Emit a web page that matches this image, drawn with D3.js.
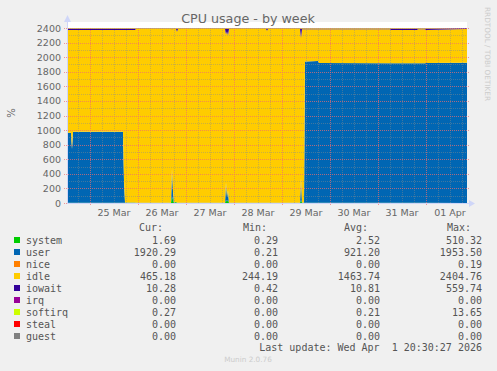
<!DOCTYPE html>
<html><head><meta charset="utf-8">
<script src="https://cdn.jsdelivr.net/npm/d3@7"></script>
<style>body{margin:0;background:#F0F0F0;} svg{display:block}</style>
</head><body><svg id="c" width="497" height="371"></svg>
<script>
// ---- data ----
const times = [
 "2026-03-24T12:30","2026-03-24T14:30","2026-03-24T15:00","2026-03-24T15:30","2026-03-25T16:30",
 "2026-03-25T17:00","2026-03-25T17:30","2026-03-25T22:30","2026-03-25T23:00","2026-03-26T16:30",
 "2026-03-26T17:00","2026-03-26T17:30","2026-03-26T18:00","2026-03-26T19:00","2026-03-26T19:30","2026-03-26T20:00",
 "2026-03-27T19:30","2026-03-27T20:00","2026-03-27T20:30","2026-03-27T21:00","2026-03-27T21:30",
 "2026-03-28T16:00","2026-03-28T16:30","2026-03-28T17:00","2026-03-29T09:00","2026-03-29T09:30",
 "2026-03-29T10:00","2026-03-29T11:00","2026-03-29T11:30","2026-03-29T18:00","2026-03-29T18:30",
 "2026-03-31T06:00","2026-03-31T06:30","2026-03-31T19:30","2026-03-31T20:00","2026-03-31T23:30",
 "2026-04-01T00:00","2026-04-01T20:30"];
const system  = [2,2,2,2,2, 2,2,2,1,1, 90,40,1,15,2,1, 1,40,20,40,1, 1,1,1,1,40, 2,2,2,2,2, 2,2,2,2,2, 2,1.69];
const user    = [960,960,740,975,975, 300,5,5,3,3, 380,120,3,3,3,3, 3,240,60,130,3, 3,3,3,3,300, 5,5,1940,1945,1918, 1915,1915,1915,1915,1915, 1918,1920.29];
const nice    = [0,0,0,0,0, 0,0,0,0,0, 0,0,0,0,0,0, 0,0,0,0,0, 0,0,0,0,0, 0,0,0,0,0, 0,0,0,0,0, 0,0];
const idle    = [1410,1410,1630,1395,1395, 2070,2365,2365,2384,2384, 1912,2228,2384,2370,2342,2384, 2384,2032,2272,2132,2384, 2384,2358,2384,2384,1922, 2375,2375,440,435,462, 467,455,455,467,467, 452,465.18];
const iowait  = [20,20,20,20,20, 20,20,20,4,4, 10,4,4,4,45,4, 4,80,40,90,4, 4,30,4,4,130, 10,10,10,10,10, 8,20,20,8,8, 20,10.28];
const irq     = [0,0,0,0,0, 0,0,0,0,0, 0,0,0,0,0,0, 0,0,0,0,0, 0,0,0,0,0, 0,0,0,0,0, 0,0,0,0,0, 0,0];
const softirq = [8,8,8,8,8, 8,8,8,8,8, 8,8,8,8,8,8, 8,8,8,8,8, 8,8,8,8,8, 8,8,8,8,8, 8,8,8,8,8, 8,0.27];
const steal   = [0,0,0,0,0, 0,0,0,0,0, 0,0,0,0,0,0, 0,0,0,0,0, 0,0,0,0,0, 0,0,0,0,0, 0,0,0,0,0, 0,0];
const guest   = [0,0,0,0,0, 0,0,0,0,0, 0,0,0,0,0,0, 0,0,0,0,0, 0,0,0,0,0, 0,0,0,0,0, 0,0,0,0,0, 0,0];

const seriesNames  = ["system","user","nice","idle","iowait","irq","softirq","steal","guest"];
const seriesColors = ["#00CC00","#0066B3","#FF8000","#FFCC00","#330099","#990099","#CCFF00","#FF0000","#808080"];
const curVals = ["1.69","1920.29","0.00","465.18","10.28","0.00","0.27","0.00","0.00"];
const minVals = ["0.29","0.21","0.00","244.19","0.42","0.00","0.00","0.00","0.00"];
const avgVals = ["2.52","921.20","0.00","1463.74","10.81","0.00","0.21","0.00","0.00"];
const maxVals = ["510.32","1953.50","0.19","2404.76","559.74","0.00","13.65","0.00","0.00"];
const yTicks = [0,200,400,600,800,1000,1200,1400,1600,1800,2000,2200,2400];
const xStart = "2026-03-24T12:30", xEnd = "2026-04-01T20:30";
const title = "CPU usage - by week";
const lastUpdate = "Last update: Wed Apr  1 20:30:27 2026";

// ---- build ----
const parse = d3.utcParse("%Y-%m-%dT%H:%M");
const cols = {system,user,nice,idle,iowait,irq,softirq,steal,guest};
const rows = times.map((t,i)=>{const r={t:parse(t)}; seriesNames.forEach(k=>r[k]=cols[k][i]); return r;});
const svg = d3.select("#c");
const L=67,R=467,T=28,B=203;
const x = d3.scaleUtc().domain([parse(xStart),parse(xEnd)]).range([L,R]);
const y = d3.scaleLinear().domain([0,2400]).range([B,T]);

svg.append("rect").attr("width",497).attr("height",371).attr("fill","#F0F0F0");
svg.append("rect").attr("x",L).attr("y",T-6).attr("width",R-L).attr("height",B-T+6).attr("fill","#FFFFFF");

const stack = d3.stack().keys(seriesNames)(rows);
const area = d3.area().x(d=>x(d.data.t)).y0(d=>y(d[0])).y1(d=>y(d[1]));
svg.append("g").selectAll("path").data(stack).join("path")
  .attr("d",area).attr("fill",(d,i)=>seriesColors[i]);

// grid
const g = svg.append("g").attr("shape-rendering","crispEdges");
const minorC = "rgba(140,140,140,0.45)", majorC = "rgba(240,110,110,0.7)";
const minorY = d3.range(100,2400,200);
g.selectAll(".hm").data(minorY).join("line")
  .attr("x1",L).attr("x2",R).attr("y1",d=>Math.round(y(d))+0.5).attr("y2",d=>Math.round(y(d))+0.5)
  .attr("stroke",minorC).attr("stroke-dasharray","1,1");
const sixH = d3.utcHour.every(6).range(parse(xStart), parse(xEnd)).filter(d=>d.getUTCHours()!==0);
g.selectAll(".vm").data(sixH).join("line")
  .attr("x1",d=>Math.round(x(d))+0.5).attr("x2",d=>Math.round(x(d))+0.5).attr("y1",T).attr("y2",B)
  .attr("stroke",minorC).attr("stroke-dasharray","1,1");
g.selectAll(".hM").data(yTicks).join("line")
  .attr("x1",L-3).attr("x2",R+2).attr("y1",d=>Math.round(y(d))+0.5).attr("y2",d=>Math.round(y(d))+0.5)
  .attr("stroke",majorC).attr("stroke-dasharray","1,1");
const days = d3.utcDay.range(parse(xStart), parse(xEnd));
g.selectAll(".vM").data(days).join("line")
  .attr("x1",d=>Math.round(x(d))+0.5).attr("x2",d=>Math.round(x(d))+0.5).attr("y1",T).attr("y2",B+3)
  .attr("stroke",majorC).attr("stroke-dasharray","1,1");

// axes lines and arrows
const ax = "#CFD6F8";
svg.append("line").attr("x1",L+0.5).attr("x2",L+0.5).attr("y1",B).attr("y2",T-8).attr("stroke",ax);
svg.append("line").attr("x1",L).attr("x2",R+3).attr("y1",B+0.5).attr("y2",B+0.5).attr("stroke",ax);
svg.append("path").attr("d",`M${L-3},${T-6}L${L+4},${T-6}L${L+0.5},${T-13}Z`).attr("fill",ax);
svg.append("path").attr("d",`M${R+2},${B-3}L${R+2},${B+4}L${R+8},${B+0.5}Z`).attr("fill",ax);

const font = "DejaVu Sans", fc = "#666666";
// y labels
svg.append("g").selectAll("text").data(yTicks).join("text")
  .attr("x",61).attr("y",d=>y(d)+3.5).attr("text-anchor","end")
  .attr("font-family",font).attr("font-size",9.5).attr("fill",fc).text(d=>d);
// x labels at noon
const fmt = d3.utcFormat("%d %b");
const noons = days.map(d=>d3.utcHour.offset(d,12)).filter(d=>x(d)<R);
svg.append("g").selectAll("text").data(noons).join("text")
  .attr("x",d=>x(d)).attr("y",216).attr("text-anchor","middle")
  .attr("font-family",font).attr("font-size",9.5).attr("fill",fc).text(d=>fmt(d));

svg.append("text").attr("x",248).attr("y",23).attr("text-anchor","middle")
  .attr("font-family",font).attr("font-size",12.7).attr("fill",fc).text(title);
svg.append("text").attr("transform","translate(15,113) rotate(-90)").attr("text-anchor","middle")
  .attr("font-family",font).attr("font-size",10).attr("fill",fc).text("%");
svg.append("text").attr("transform","translate(485,54) rotate(90)").attr("text-anchor","middle")
  .attr("font-family",font).attr("font-size",7.3).attr("fill","#CCCCCC").text("RRDTOOL / TOBI OETIKER");

// legend
const mono = "DejaVu Sans Mono";
const lg = svg.append("g").attr("font-family",mono).attr("font-size",10).attr("fill","#555555");
[["Cur:",139],["Min:",243],["Avg:",344],["Max:",447]].forEach(([t,xx])=>
  lg.append("text").attr("x",xx).attr("y",231).text(t));
seriesNames.forEach((n,i)=>{
  const yy = 244 + i*12;
  lg.append("rect").attr("x",14).attr("y",yy-7).attr("width",6).attr("height",6).attr("fill",seriesColors[i]);
  lg.append("text").attr("x",26).attr("y",yy).text(n);
  [[curVals,176],[minVals,278],[avgVals,380],[maxVals,482]].forEach(([arr,xx])=>
    lg.append("text").attr("x",xx).attr("y",yy).attr("text-anchor","end").text(arr[i]));
});
lg.append("text").attr("x",482).attr("y",351).attr("text-anchor","end").style("white-space","pre").text(lastUpdate);
svg.append("text").attr("x",248).attr("y",362).attr("text-anchor","middle")
  .attr("font-family",font).attr("font-size",7.3).attr("fill","#CCCCCC").text("Munin 2.0.76");
</script></body></html>
